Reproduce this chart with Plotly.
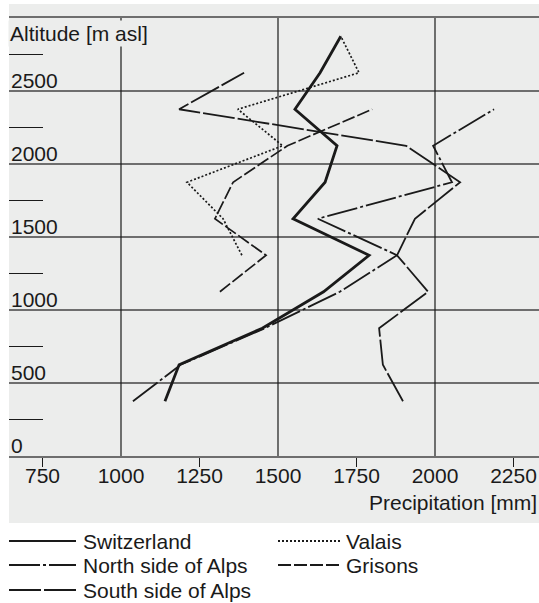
import plotly.graph_objects as go

# ---------------- data ----------------
ALTITUDE = [375, 625, 875, 1125, 1375, 1625, 1875, 2125, 2375, 2625, 2875]

SWITZERLAND = [1140, 1185, 1450, 1645, 1790, 1548, 1650, 1688, 1554, 1634, 1700]
NORTH_ALPS = [1038, 1190, 1458, 1697, 1879, 1627, 2054, 1994, 2188, None, None]
SOUTH_ALPS = [1898, 1834, 1822, 1978, 1879, 1936, 2080, 1908, 1185, 1392, None]
VALAIS = [None, None, None, None, 1385, 1325, 1210, 1515, 1372, 1758, 1700]
GRISONS = [None, None, None, 1315, 1462, 1299, 1357, 1530, 1800, None, None]

SERIES_NAMES = ["Switzerland", "North side of Alps", "South side of Alps", "Valais", "Grisons"]
SERIES_VALUES = [SWITZERLAND, NORTH_ALPS, SOUTH_ALPS, VALAIS, GRISONS]

X_TICKS = [750, 1000, 1250, 1500, 1750, 2000, 2250]
X_MINOR_TICKS = [750, 1250, 1750, 2250]
X_GRID = [1000, 1500, 2000]
Y_LABELS = [0, 500, 1000, 1500, 2000, 2500]
Y_GRID = [500, 1000, 1500, 2000, 2500]
Y_MINOR = [250, 750, 1250, 1750, 2250, 2750]

X_TITLE = "Precipitation [mm]"
Y_TITLE = "Altitude [m asl]"

# ---------------- styles ----------------
INK = "#1a1a1a"
BG = "#ecedec"
GRIDC = "#6e6e6e"
FONT = "Liberation Sans, Arial, sans-serif"
FS = 21

STYLES = {
    "Switzerland": dict(width=2.8, dash="solid"),
    "North side of Alps": dict(width=1.8, dash="31px,3px,3px,3px"),
    "South side of Alps": dict(width=1.8, dash="32px,3px"),
    "Valais": dict(width=1.7, dash="2px,2px"),
    "Grisons": dict(width=1.7, dash="13px,3px"),
}
# legend grid: (column, row)
LEGEND_POS = {
    "Switzerland": (0, 0),
    "North side of Alps": (0, 1),
    "South side of Alps": (0, 2),
    "Valais": (1, 0),
    "Grisons": (1, 1),
}

W, H = 539, 603
ML, MR, MT, MB = 9, 0, 18, 147
PW = W - ML - MR
PH = H - MT - MB


def px_x(p):
    return (p - ML) / PW


def px_y(p):
    return (H - MB - p) / PH


fig = go.Figure()

for name, vals in zip(SERIES_NAMES, SERIES_VALUES):
    xs = [v for v in vals if v is not None]
    ys = [a for a, v in zip(ALTITUDE, vals) if v is not None]
    st = STYLES[name]
    fig.add_trace(go.Scatter(
        x=xs, y=ys, mode="lines", name=name, showlegend=False,
        line=dict(color=INK, width=st["width"], dash=st["dash"]),
        hoverinfo="skip",
    ))

shapes = []
# grey panel
shapes.append(dict(type="rect", xref="paper", yref="paper",
                   x0=px_x(9), x1=px_x(539), y0=px_y(523), y1=px_y(4),
                   fillcolor=BG, line=dict(width=0), layer="below"))
# vertical grid lines
for gx in X_GRID:
    shapes.append(dict(type="line", xref="x", yref="y", x0=gx, x1=gx, y0=0, y1=3000,
                       line=dict(color=INK, width=1.2), layer="between"))

annotations = []
# y labels above gridlines
for yv in Y_LABELS:
    annotations.append(dict(x=px_x(9), y=yv, xref="paper", yref="y", text=str(yv),
                            showarrow=False, xanchor="left", yanchor="bottom",
                            yshift=-3, font=dict(family=FONT, size=FS, color=INK)))
# y title
annotations.append(dict(x=px_x(8), y=px_y(20), xref="paper", yref="paper", text=Y_TITLE,
                        showarrow=False, xanchor="left", yanchor="top", bgcolor=BG,
                        borderpad=1, font=dict(family=FONT, size=FS, color=INK)))
# x title
annotations.append(dict(x=px_x(539), y=px_y(489), xref="paper", yref="paper", text=X_TITLE,
                        showarrow=False, xanchor="right", yanchor="top",
                        font=dict(family=FONT, size=FS, color=INK)))

# custom legend
COL_LINE = [(9, 76), (278, 342)]
COL_TEXT = [81, 344]
ROW_Y = [541, 565, 590]
for name in SERIES_NAMES:
    c, r = LEGEND_POS[name]
    st = STYLES[name]
    x0, x1 = COL_LINE[c]
    shapes.append(dict(type="line", xref="paper", yref="paper",
                       x0=px_x(x0), x1=px_x(x1), y0=px_y(ROW_Y[r]), y1=px_y(ROW_Y[r]),
                       line=dict(color=INK, width=2, dash=st["dash"])))
    annotations.append(dict(x=px_x(COL_TEXT[c]), y=px_y(ROW_Y[r]), xref="paper", yref="paper",
                            text=name, showarrow=False, xanchor="left", yanchor="middle",
                            font=dict(family=FONT, size=FS, color=INK)))

fig.update_layout(
    width=W, height=H,
    margin=dict(l=ML, r=MR, t=MT, b=MB, pad=0),
    paper_bgcolor="white", plot_bgcolor=BG,
    showlegend=False,
    shapes=shapes, annotations=annotations,
    xaxis=dict(
        range=[643.3, 2331.2], tickmode="array", tickvals=X_TICKS,
        ticktext=[str(v) for v in X_TICKS], ticks="", showgrid=False, zeroline=False,
        showline=True, linecolor=GRIDC, linewidth=2, mirror=True,
        tickfont=dict(family=FONT, size=FS, color=INK),
        minor=dict(tickmode="array", tickvals=X_MINOR_TICKS, ticks="outside",
                   ticklen=9, tickwidth=1.2, tickcolor=INK, showgrid=False),
    ),
    yaxis=dict(
        range=[0, 3000], tickmode="array", tickvals=Y_GRID, showticklabels=False,
        ticks="", showgrid=True, gridcolor=GRIDC, gridwidth=2, zeroline=False,
        showline=False,
        minor=dict(tickmode="array", tickvals=Y_MINOR, ticks="inside",
                   ticklen=34, tickwidth=1.2, tickcolor=INK, showgrid=False),
    ),
)

fig.write_html("out.html")
